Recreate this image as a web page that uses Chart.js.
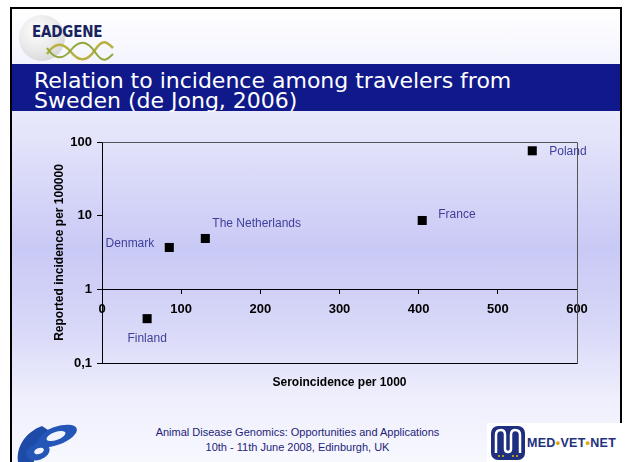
<!DOCTYPE html>
<html>
<head>
<meta charset="utf-8">
<script src="https://cdn.jsdelivr.net/npm/chart.js@4"></script>
<style>
  html, body { margin: 0; padding: 0; }
  body { width: 625px; height: 462px; overflow: hidden; background: #fff; position: relative; font-family: "Liberation Sans", Arial, sans-serif; }
  #slide {
    position: absolute; left: 10px; top: 7px; width: 608px; height: 470px;
    border: 2px solid #000; border-bottom: none;
    background: linear-gradient(to bottom, #ffffff 0%, #f4f4fe 11%, #e8e8fb 23%, #c9c9f6 51%, #d8d8f8 68%, #efeffd 83%, #f8f8ff 97%);
  }
  #titlebar {
    position: absolute; left: 0; top: 55px; width: 100%; height: 47px;
    background: #10198a; color: #fff;
    font-family: "DejaVu Sans", Verdana, sans-serif; font-size: 22px; line-height: 20px;
    padding: 7px 0 0 22px; box-sizing: border-box;
  }
  #eadgene { position: absolute; left: 5px; top: 6px; width: 100px; height: 55px; }
  #eadgene .ball {
    position: absolute; left: 2px; top: 0px; width: 46px; height: 46px; border-radius: 50%;
    background: radial-gradient(circle at 40% 35%, #ffffff 0%, #e6e6e6 55%, #c8c8c8 100%);
  }
  #eadgene .name {
    position: absolute; left: 15px; top: 8px; font-family: "Liberation Sans Narrow", "DejaVu Sans Condensed", sans-serif;
    font-weight: bold; font-size: 15px; color: #17245e; letter-spacing: -0.2px;
  }
  #eadgene svg { position: absolute; left: 28px; top: 25px; }
  #footer {
    position: absolute; left: 0; top: 425px; width: 595px; text-align: center;
    font-size: 11px; line-height: 15px; color: #1d1d78;
  }
  #fp6 { position: absolute; left: 12px; top: 416px; }
  #mvn {
    position: absolute; left: 487px; top: 423px; width: 135px; height: 39px; background: #fff;
  }
  #mvn svg { position: absolute; left: 3px; top: 2px; }
  #mvn .txt {
    position: absolute; left: 40px; top: 13px; font-weight: bold; font-size: 12.5px; color: #22307e;
    font-family: "Liberation Sans", Arial, sans-serif; letter-spacing: 0.3px; white-space: nowrap;
  }
  #mvn .txt b { color: #e0a800; }
  #chart { position: absolute; left: 0; top: 0; }
</style>
</head>
<body>
<div id="slide">
  <div id="eadgene">
    <div class="ball"></div>
    <div class="name">EADGENE</div>
    <svg width="70" height="22" viewBox="0 0 70 22">
      <path d="M2 14 C10 2, 18 2, 26 12 S42 22, 50 10 S62 2, 68 8" stroke="#b8b040" stroke-width="2.5" fill="none"/>
      <path d="M2 8 C10 20, 18 20, 26 10 S42 0, 50 12 S62 20, 68 14" stroke="#8fa83a" stroke-width="2" fill="none"/>
    </svg>
  </div>
  <div id="titlebar">Relation to incidence among travelers from<br>Sweden (de Jong, 2006)</div>
</div>

<svg id="fp6" width="70" height="46" viewBox="0 0 70 46">
  <ellipse cx="44" cy="20" rx="22" ry="9" transform="rotate(-20 44 20)" fill="#2456b8"/>
  <ellipse cx="44" cy="20" rx="10" ry="4" transform="rotate(-20 44 20)" fill="#f4f4fe"/>
  <path d="M30 10 C14 16, 4 30, 6 46 L22 46 C20 34, 24 22, 36 14 Z" fill="#1e4aa8"/>
  <ellipse cx="26" cy="36" rx="12" ry="8" transform="rotate(-20 26 36)" fill="#2456b8"/>
  <ellipse cx="27" cy="35" rx="5" ry="3" transform="rotate(-20 27 35)" fill="#f4f4fe"/>
</svg>

<div id="footer">Animal Disease Genomics: Opportunities and Applications<br>10th - 11th June 2008, Edinburgh, UK</div>

<div id="mvn">
  <svg width="36" height="36" viewBox="0 0 36 36">
    <rect x="1" y="1" width="34" height="34" rx="7" fill="#1f2f80"/>
    <path d="M6 28 V10 Q6 5 11 5 Q15 5 15 10 V24 Q15 27 18 27 Q21 27 21 24 V10 Q21 5 25 5 Q30 5 30 10 V28" stroke="#fff" stroke-width="2.5" fill="none"/>
    <circle cx="9" cy="31" r="1" fill="#e8c000"/><circle cx="13" cy="31" r="1" fill="#e8c000"/>
    <circle cx="23" cy="31" r="1" fill="#e8c000"/><circle cx="27" cy="31" r="1" fill="#e8c000"/>
  </svg>
  <div class="txt">MED<b>•</b>VET<b>•</b>NET</div>
</div>

<canvas id="chart" width="625" height="462"></canvas>

<script>
// --- Data ---
const countries = ['Finland', 'Denmark', 'The Netherlands', 'France', 'Poland'];
const seroincidence = [57, 85, 130.5, 404.5, 543.5];
const reportedIncidence = [0.4, 3.7, 4.9, 8.6, 76];
const xTicks = [0, 100, 200, 300, 400, 500, 600];
const yTicks = [0.1, 1, 10, 100];
const yTickLabels = ['0,1', '1', '10', '100'];
const xTitle = 'Seroincidence per 1000';
const yTitle = 'Reported incidence per 100000';

const FONT = '"Liberation Sans", Arial, sans-serif';

// frame, x title and point names
const slidePlugin = {
    id: 'slidePlugin',
    beforeDatasetsDraw(chart) {
        const { ctx, chartArea: a } = chart;
        ctx.save();
        ctx.strokeStyle = '#555';
        ctx.lineWidth = 1;
        ctx.beginPath();
        ctx.moveTo(Math.round(a.left) + 0.5, Math.round(a.top) + 0.5);
        ctx.lineTo(Math.round(a.right) + 0.5, Math.round(a.top) + 0.5);
        ctx.lineTo(Math.round(a.right) + 0.5, Math.round(a.bottom) + 0.5);
        ctx.stroke();
        ctx.strokeStyle = '#000';
        ctx.beginPath();
        ctx.moveTo(Math.round(a.left) + 0.5, Math.round(a.bottom) + 0.5);
        ctx.lineTo(Math.round(a.right) + 0.5, Math.round(a.bottom) + 0.5);
        ctx.stroke();

        ctx.fillStyle = '#000';
        ctx.font = 'bold 12px ' + FONT;
        ctx.textAlign = 'center';
        ctx.textBaseline = 'middle';
        ctx.fillText(xTitle, (a.left + a.right) / 2, a.bottom + 20);
        ctx.restore();
    },
    afterDatasetsDraw(chart, args, opts) {
        const { ctx } = chart;
        const meta = chart.getDatasetMeta(0);
        ctx.save();
        ctx.font = '12px ' + FONT;
        ctx.fillStyle = '#3f3f99';
        ctx.textBaseline = 'middle';
        meta.data.forEach((pt, i) => {
            const [dx, dy, align] = opts.offsets[i];
            ctx.textAlign = align;
            ctx.fillText(countries[i], pt.x + dx, pt.y + dy);
        });
        ctx.restore();
    }
};

new Chart(document.getElementById('chart'), {
    type: 'scatter',
    data: {
        datasets: [{
            data: seroincidence.map((x, i) => ({ x: x, y: reportedIncidence[i] })),
            pointStyle: 'rect',
            pointRadius: 6.4,
            pointBackgroundColor: '#000',
            pointBorderWidth: 0,
            showLine: false
        }]
    },
    options: {
        responsive: false,
        animation: false,
        layout: { padding: { left: 50, top: 142, right: 48, bottom: 99 } },
        scales: {
            x: {
                type: 'linear',
                position: { y: 1 },
                min: 0,
                max: 600,
                afterBuildTicks: (s) => { s.ticks = xTicks.map(v => ({ value: v })); },
                ticks: { color: '#000', padding: 8, font: { family: FONT, size: 13, weight: 'bold' } },
                grid: { drawOnChartArea: false, tickLength: 4, color: '#000' },
                border: { color: '#000', width: 1 }
            },
            y: {
                type: 'logarithmic',
                min: 0.1,
                max: 100,
                afterBuildTicks: (s) => { s.ticks = yTicks.map(v => ({ value: v })); },
                afterFit: (s) => { s.width = 52; },
                ticks: {
                    color: '#000', padding: 5,
                    font: { family: FONT, size: 13, weight: 'bold' },
                    callback: (v) => yTickLabels[yTicks.indexOf(v)]
                },
                grid: { drawOnChartArea: false, tickLength: 5, color: '#000' },
                border: { color: '#000', width: 1 },
                title: {
                    display: true, text: yTitle, color: '#000', padding: { top: 2, bottom: 0 },
                    font: { family: FONT, size: 12, weight: 'bold' }
                }
            }
        },
        plugins: {
            legend: { display: false },
            tooltip: { enabled: false },
            slidePlugin: {
                offsets: [[0, 20, 'center'], [-15, -4, 'right'], [7, -15, 'left'], [16, -6, 'left'], [17, 1, 'left']]
            }
        }
    },
    plugins: [slidePlugin]
});
</script>
</body>
</html>
